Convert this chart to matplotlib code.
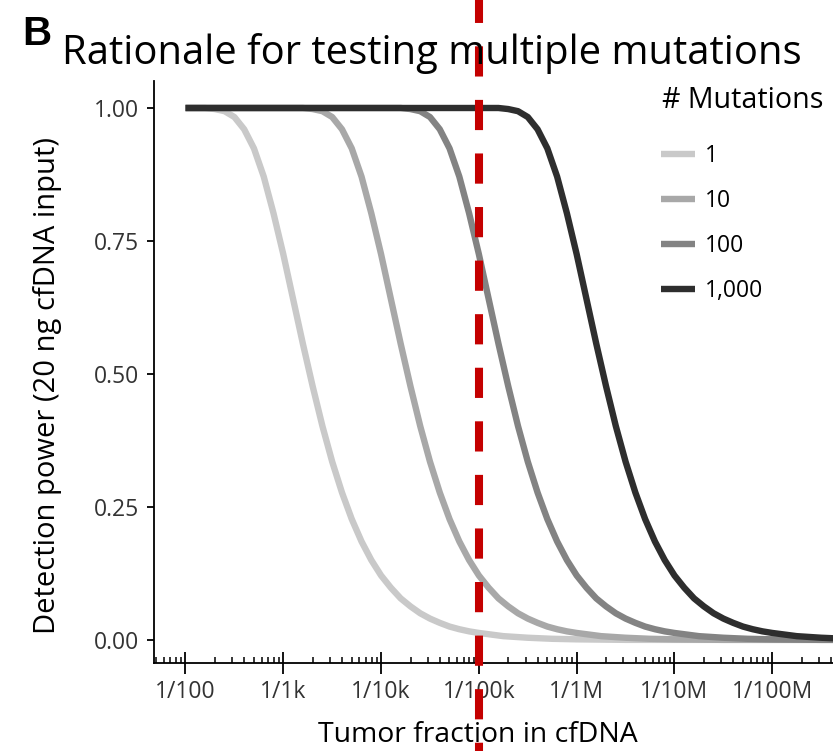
import numpy as np
import matplotlib
matplotlib.use("Agg")
import matplotlib.pyplot as plt
from matplotlib.ticker import FixedLocator, LogLocator, NullFormatter
from matplotlib.transforms import blended_transform_factory

plt.rcParams["font.family"] = ["Open Sans", "DejaVu Sans"]

# ── Data: detection power vs. tumor fraction (x = log10 of the 1/N denominator) ──
MUTATION_COUNTS = ["1", "10", "100", "1,000"]
LINE_COLORS = ["#C9C9C9", "#A8A8A8", "#838383", "#2E2E2E"]

log_denom_1 = [2.0, 2.2, 2.3, 2.4, 2.5, 2.6, 2.7, 2.8, 2.9, 3.0, 3.1, 3.2, 3.3, 3.4, 3.5,
               3.6, 3.7, 3.8, 3.9, 4.0, 4.1, 4.2, 4.3, 4.4, 4.5, 4.6, 4.7, 4.8, 4.9,
               5.0, 5.25, 5.5, 5.75, 6.0, 6.5, 7.0, 8.9]
power_1 = [1.000, 1.000, 0.998, 0.994, 0.983, 0.960, 0.924, 0.871, 0.802, 0.725, 0.641,
           0.557, 0.477, 0.402, 0.335, 0.277, 0.227, 0.185, 0.150, 0.121, 0.098, 0.078,
           0.063, 0.050, 0.040, 0.032, 0.025, 0.020, 0.016, 0.013, 0.007, 0.004, 0.002,
           0.001, 0.000, 0.000, 0.000]

log_denom_10 = [2.0, 3.2, 3.3, 3.4, 3.5, 3.6, 3.7, 3.8, 3.9, 4.0, 4.1, 4.2, 4.3, 4.4, 4.5,
                4.6, 4.7, 4.8, 4.9, 5.0, 5.1, 5.2, 5.3, 5.4, 5.5, 5.6, 5.7, 5.8, 5.9,
                6.0, 6.25, 6.5, 6.75, 7.0, 7.5, 8.0, 8.9]
power_10 = [1.000, 1.000, 0.998, 0.994, 0.983, 0.960, 0.924, 0.871, 0.802, 0.725, 0.641,
            0.557, 0.477, 0.402, 0.335, 0.277, 0.227, 0.185, 0.150, 0.121, 0.098, 0.078,
            0.063, 0.050, 0.040, 0.032, 0.025, 0.020, 0.016, 0.013, 0.007, 0.004, 0.002,
            0.001, 0.000, 0.000, 0.000]

log_denom_100 = [2.0, 4.2, 4.3, 4.4, 4.5, 4.6, 4.7, 4.8, 4.9, 5.0, 5.1, 5.2, 5.3, 5.4, 5.5,
                 5.6, 5.7, 5.8, 5.9, 6.0, 6.1, 6.2, 6.3, 6.4, 6.5, 6.6, 6.7, 6.8, 6.9,
                 7.0, 7.25, 7.5, 7.75, 8.0, 8.5, 8.9]
power_100 = [1.000, 1.000, 0.998, 0.994, 0.983, 0.960, 0.924, 0.871, 0.802, 0.725, 0.641,
             0.557, 0.477, 0.402, 0.335, 0.277, 0.227, 0.185, 0.150, 0.121, 0.098, 0.078,
             0.063, 0.050, 0.040, 0.032, 0.025, 0.020, 0.016, 0.013, 0.007, 0.004, 0.002,
             0.001, 0.000, 0.000]

log_denom_1000 = [2.0, 5.2, 5.3, 5.4, 5.5, 5.6, 5.7, 5.8, 5.9, 6.0, 6.1, 6.2, 6.3, 6.4, 6.5,
                  6.6, 6.7, 6.8, 6.9, 7.0, 7.1, 7.2, 7.3, 7.4, 7.5, 7.6, 7.7, 7.8, 7.9,
                  8.0, 8.25, 8.5, 8.75, 8.9]
power_1000 = [1.000, 1.000, 0.998, 0.994, 0.983, 0.960, 0.924, 0.871, 0.802, 0.725, 0.641,
              0.557, 0.477, 0.402, 0.335, 0.277, 0.227, 0.185, 0.150, 0.121, 0.098, 0.078,
              0.063, 0.050, 0.040, 0.032, 0.025, 0.020, 0.016, 0.013, 0.007, 0.004, 0.002,
              0.002]

X_TICK_DENOMS = [1e2, 1e3, 1e4, 1e5, 1e6, 1e7, 1e8]
X_TICK_LABELS = ["1/100", "1/1k", "1/10k", "1/100k", "1/1M", "1/10M", "1/100M"]
Y_TICKS = [0.00, 0.25, 0.50, 0.75, 1.00]
CUTOFF_DENOM = 1e5

SERIES = [
    (log_denom_1, power_1),
    (log_denom_10, power_10),
    (log_denom_100, power_100),
    (log_denom_1000, power_1000),
]

# ── Figure ─────────────────────────────────────────────────────────────────────
W, H = 833, 751
fig = plt.figure(figsize=(W / 100, H / 100), dpi=100)
# panel runs off the right edge of the canvas
ax = fig.add_axes([154 / W, (H - 663) / H, 706.3 / W, (663 - 81.4) / H])

for (xs, ys), color, label in zip(SERIES, LINE_COLORS, MUTATION_COUNTS):
    ax.plot(10 ** np.array(xs), ys, color=color, lw=4.6, label=label,
            solid_capstyle="butt", solid_joinstyle="round")

ax.set_xscale("log")
ax.set_xlim(10 ** 1.678, 10 ** 8.9)
ax.set_ylim(-0.0435, 1.05)

for side in ["top", "right"]:
    ax.spines[side].set_visible(False)
for side in ["left", "bottom"]:
    ax.spines[side].set_linewidth(1.3)
    ax.spines[side].set_color("black")

ax.xaxis.set_major_locator(FixedLocator(X_TICK_DENOMS))
ax.set_xticklabels(X_TICK_LABELS)
ax.xaxis.set_minor_locator(LogLocator(base=10, subs=np.arange(2, 10)))
ax.xaxis.set_minor_formatter(NullFormatter())
ax.tick_params(axis="x", which="major", direction="inout", length=16, width=1.3,
               pad=4, labelsize=16.5, labelcolor="#333333")
ax.tick_params(axis="x", which="minor", direction="in", length=4, width=1.1)

ax.set_yticks(Y_TICKS)
ax.set_yticklabels([f"{v:.2f}" for v in Y_TICKS])
ax.tick_params(axis="y", direction="out", length=5, width=1.3, pad=6,
               labelsize=16.5, labelcolor="#333333")

# dashed cutoff, running through the whole canvas height
trans = blended_transform_factory(ax.transData, fig.transFigure)
ax.plot([CUTOFF_DENOM, CUTOFF_DENOM], [1.0, 0.0], transform=trans, clip_on=False,
        color="#C40000", lw=5.8, linestyle=(0.9, (3.75, 2.9)), zorder=10)

fig.text(22 / W, (H - 45) / H, "B", family=["Liberation Sans", "DejaVu Sans"],
         fontweight="bold", fontsize=29, va="baseline", ha="left")
fig.text(62 / W, (H - 64) / H, "Rationale for testing multiple mutations",
         fontsize=28.8, va="baseline", ha="left")
fig.text(48 / W, (H - 385) / H, "Detection power (20 ng cfDNA input)",
         rotation=90, fontsize=21, va="center", ha="center")
fig.text(478 / W, (H - 735) / H, "Tumor fraction in cfDNA",
         fontsize=20.4, va="center", ha="center")

# legend: title set apart from the keys
fig.text(662 / W, (H - 100) / H, "# Mutations", fontsize=20.6,
         va="center", ha="left")
leg = ax.legend(loc="upper left",
                bbox_to_anchor=(661 / W, (H - 144) / H), bbox_transform=fig.transFigure,
                frameon=False, fontsize=16.5, handlelength=1.5,
                handletextpad=0.4, labelspacing=0.91,
                borderpad=0, borderaxespad=0)

fig.savefig("out.png", dpi=100)
